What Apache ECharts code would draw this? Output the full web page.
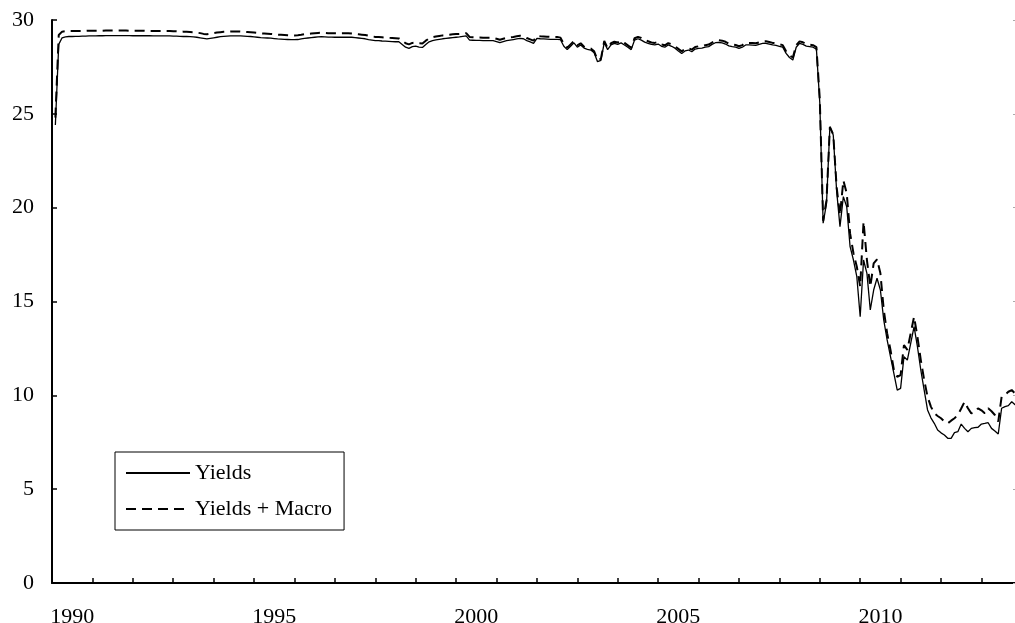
<!DOCTYPE html>
<html>
<head>
<meta charset="utf-8">
<script src="https://cdn.jsdelivr.net/npm/echarts@6/dist/echarts.min.js"></script>
<style>
  html, body { margin: 0; padding: 0; background: #fff; }
  #chart { width: 1015px; height: 623px; }
</style>
</head>
<body>
<div id="chart"></div>
<script>
// monthly series, first point is Jan 1990
const startYear = 1990
const xMin = 1990
const xMax = 2013.93
const labelYears = [1990, 1995, 2000, 2005, 2010]
const yTicks = [0, 5, 10, 15, 20, 25, 30]

const yields = [
  24.4, 28.7, 29.05, 29.1, 29.12, 29.12, 29.13, 29.13, 29.14, 29.14, 29.15, 29.15,
  29.15, 29.16, 29.16, 29.17, 29.17, 29.17, 29.17, 29.17, 29.17, 29.17, 29.17, 29.16,
  29.16, 29.16, 29.16, 29.16, 29.16, 29.15, 29.15, 29.15, 29.15, 29.15, 29.15, 29.14,
  29.14, 29.13, 29.12, 29.12, 29.11, 29.1, 29.08, 29.05, 29.02, 28.99, 29.02, 29.05,
  29.08, 29.11, 29.13, 29.14, 29.15, 29.15, 29.15, 29.15, 29.14, 29.13, 29.12, 29.1,
  29.08, 29.06, 29.05, 29.04, 29.03, 29.01, 28.99, 28.98, 28.97, 28.96, 28.95, 28.95,
  28.96, 28.99, 29.02, 29.04, 29.06, 29.08, 29.1, 29.11, 29.1, 29.09, 29.09, 29.08,
  29.08, 29.08, 29.08, 29.08, 29.08, 29.06, 29.04, 29.02, 29.0, 28.96, 28.93, 28.9,
  28.9, 28.88, 28.87, 28.86, 28.85, 28.84, 28.84, 28.7, 28.55, 28.49, 28.58, 28.61,
  28.56, 28.54, 28.7, 28.84, 28.9, 28.94, 28.97, 29.0, 29.02, 29.04, 29.06, 29.08,
  29.1, 29.13, 29.15, 28.93, 28.92, 28.91, 28.91, 28.9, 28.9, 28.9, 28.9, 28.85,
  28.79, 28.85, 28.9, 28.93, 28.96, 28.99, 29.02, 29.0, 28.9, 28.83, 28.76, 29.02,
  29.0, 28.99, 28.98, 28.97, 28.97, 28.97, 28.95, 28.6, 28.42, 28.6, 28.78, 28.55,
  28.67, 28.5, 28.44, 28.4, 28.25, 27.78, 27.85, 28.8, 28.42, 28.67, 28.75, 28.7,
  28.78, 28.67, 28.55, 28.42, 28.93, 29.0, 28.93, 28.82, 28.76, 28.7, 28.68, 28.72,
  28.6, 28.55, 28.67, 28.6, 28.5, 28.35, 28.22, 28.35, 28.4, 28.31, 28.45, 28.49,
  28.5, 28.55, 28.58, 28.7, 28.79, 28.8, 28.78, 28.72, 28.62, 28.58, 28.55, 28.49,
  28.55, 28.67, 28.67, 28.66, 28.65, 28.7, 28.75, 28.76, 28.72, 28.67, 28.65, 28.6,
  28.55, 28.22, 28.0, 27.87, 28.55, 28.76, 28.7, 28.61, 28.58, 28.55, 28.45, 25.6,
  19.17, 20.23, 24.31, 23.87, 20.9, 18.99, 20.59, 20.05, 17.92, 17.21, 16.32, 14.19,
  17.21, 16.5, 14.55, 15.61, 16.24, 15.61, 14.01, 12.95, 12.06, 11.17, 10.28, 10.37,
  12.06, 11.88, 12.77, 13.66, 12.59, 11.35, 10.28, 9.22, 8.8, 8.51, 8.15, 8.0,
  7.89, 7.71, 7.71, 8.01, 8.06, 8.47, 8.24, 8.06, 8.24, 8.28, 8.3, 8.47,
  8.5, 8.54, 8.24, 8.1, 7.94, 9.31, 9.4, 9.45, 9.66, 9.5, 9.45
]

const yieldsMacro = [
  24.8, 29.2, 29.38, 29.4, 29.41, 29.41, 29.42, 29.42, 29.42, 29.42, 29.43, 29.43,
  29.43, 29.43, 29.43, 29.44, 29.44, 29.44, 29.44, 29.44, 29.44, 29.44, 29.43, 29.43,
  29.43, 29.43, 29.43, 29.42, 29.42, 29.42, 29.42, 29.41, 29.41, 29.41, 29.41, 29.4,
  29.4, 29.39, 29.38, 29.37, 29.36, 29.35, 29.33, 29.3, 29.26, 29.24, 29.27, 29.3,
  29.33, 29.35, 29.37, 29.38, 29.39, 29.39, 29.39, 29.38, 29.37, 29.36, 29.35, 29.33,
  29.31, 29.29, 29.28, 29.27, 29.26, 29.24, 29.22, 29.21, 29.2, 29.19, 29.18, 29.18,
  29.19, 29.21, 29.24, 29.26, 29.28, 29.3, 29.31, 29.32, 29.31, 29.3, 29.3, 29.29,
  29.29, 29.29, 29.29, 29.29, 29.28, 29.26, 29.24, 29.22, 29.2, 29.16, 29.13, 29.1,
  29.1, 29.08, 29.06, 29.05, 29.04, 29.03, 29.02, 28.9, 28.76, 28.7, 28.78, 28.8,
  28.76, 28.75, 28.9, 29.02, 29.08, 29.12, 29.15, 29.18, 29.2, 29.22, 29.24, 29.25,
  29.26, 29.28, 29.3, 29.1, 29.08, 29.07, 29.07, 29.06, 29.06, 29.06, 29.05, 29.0,
  28.95, 29.0, 29.05, 29.08, 29.1, 29.13, 29.16, 29.14, 29.04, 28.97, 28.9, 29.15,
  29.13, 29.12, 29.11, 29.1, 29.1, 29.1, 29.06, 28.72, 28.52, 28.7, 28.88, 28.65,
  28.76, 28.58, 28.52, 28.48, 28.33, 27.86, 27.93, 28.88, 28.5, 28.76, 28.84, 28.8,
  28.88, 28.78, 28.65, 28.52, 29.03, 29.1, 29.04, 28.93, 28.87, 28.8, 28.78, 28.82,
  28.7, 28.65, 28.77, 28.7, 28.6, 28.46, 28.33, 28.46, 28.5, 28.42, 28.56, 28.6,
  28.61, 28.66, 28.69, 28.8, 28.9, 28.92, 28.9, 28.84, 28.74, 28.7, 28.67, 28.6,
  28.66, 28.78, 28.78, 28.77, 28.76, 28.81, 28.86, 28.87, 28.83, 28.78, 28.76, 28.71,
  28.66, 28.33, 28.12, 28.0, 28.66, 28.86, 28.81, 28.72, 28.69, 28.66, 28.56, 25.8,
  19.3, 20.4, 24.3, 23.9, 21.1, 19.6, 21.45, 20.77, 18.63, 17.57, 16.85, 15.79,
  19.25, 17.21, 15.79, 17.03, 17.25, 16.5, 14.55, 13.31, 12.42, 11.35, 10.99, 11.08,
  12.68, 12.42, 13.31, 14.19, 13.12, 11.88, 10.82, 9.93, 9.4, 9.04, 8.9, 8.78,
  8.6, 8.51, 8.65, 8.78, 8.95, 9.3, 9.66, 9.31, 9.04, 9.1, 9.31, 9.2,
  9.04, 9.31, 9.15, 8.95, 8.6, 9.93, 10.02, 10.19, 10.28, 10.1, 10.0
]

const FONT = 'Liberation Serif'

function toPoints(values) {
  return values.map((v, i) => [startYear + (i + 1) / 12, v])
}

const chart = echarts.init(document.getElementById('chart'))

chart.setOption({
  animation: false,
  backgroundColor: '#fff',
  textStyle: { fontFamily: FONT, color: '#000' },
  grid: { left: 52, right: -4, top: 20, bottom: 40, outerBoundsMode: 'none', containLabel: false },
  legend: {
    orient: 'vertical',
    left: 115,
    top: 452,
    data: ['Yields', 'Yields + Macro'],
    itemWidth: 64,
    itemHeight: 14,
    itemGap: 14,
    padding: [10, 12, 10, 10],
    borderColor: '#000',
    borderWidth: 1,
    itemStyle: { opacity: 0 },
    textStyle: { fontFamily: FONT, fontSize: 22, color: '#000' },
  },
  xAxis: [
    {
      type: 'value',
      position: 'bottom',
      min: xMin,
      max: xMax,
      interval: 1,
      axisLine: { lineStyle: { color: '#000', width: 2 } },
      axisTick: { inside: true, length: 5, lineStyle: { color: '#000', width: 1.5 } },
      axisLabel: { show: false },
      splitLine: { show: false },
    },
    {
      // labels sit in the middle of each year
      type: 'value',
      position: 'bottom',
      offset: 0,
      min: xMin,
      max: xMax,
      interval: 0.5,
      axisLine: { show: false },
      axisTick: { show: false },
      splitLine: { show: false },
      axisLabel: {
        margin: 23,
        fontFamily: FONT,
        fontSize: 22,
        color: '#000',
        formatter: v => {
          const y = Math.floor(v)
          return Math.abs(v - y - 0.5) < 1e-6 && labelYears.includes(y) ? String(y) : ''
        },
      },
    },
  ],
  yAxis: [
    {
      type: 'value',
      min: yTicks[0],
      max: yTicks[yTicks.length - 1],
      interval: 5,
      axisLine: { show: true, lineStyle: { color: '#000', width: 2 } },
      axisTick: { show: true, inside: true, length: 5, lineStyle: { color: '#000', width: 1.5 } },
      axisLabel: { margin: 18, fontFamily: FONT, fontSize: 22, color: '#000' },
      splitLine: { show: false },
    },
    {
      type: 'value',
      position: 'right',
      min: yTicks[0],
      max: yTicks[yTicks.length - 1],
      interval: 5,
      axisLine: { show: false },
      axisTick: { show: true, inside: true, length: 6, lineStyle: { color: '#aaa', width: 1 } },
      axisLabel: { show: false },
      splitLine: { show: false },
    },
  ],
  series: [
    {
      name: 'Yields',
      type: 'line',
      data: toPoints(yields),
      symbol: 'none',
      lineStyle: { color: '#000', width: 1.3 },
      itemStyle: { color: '#000' },
    },
    {
      name: 'Yields + Macro',
      type: 'line',
      data: toPoints(yieldsMacro),
      symbol: 'none',
      lineStyle: { color: '#000', width: 2, type: [10, 6] },
      itemStyle: { color: '#000' },
    },
  ],
})
</script>
</body>
</html>
